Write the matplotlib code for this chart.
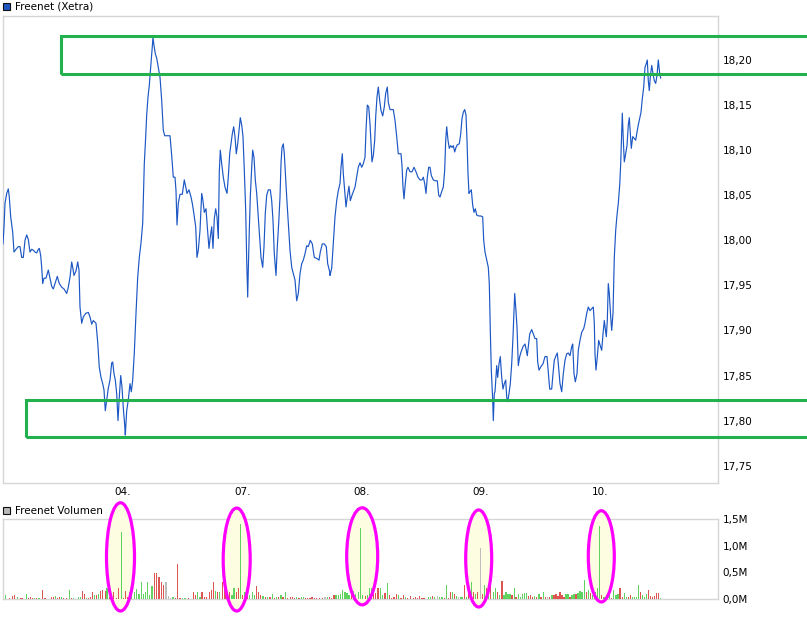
import matplotlib
matplotlib.use("Agg")
import matplotlib.pyplot as plt
from matplotlib.patches import Rectangle, Ellipse

plt.rcParams['font.family'] = ['DejaVu Sans']

# ---------------- data ----------------
# time axis: intraday time units (one trading day = 119.5 units)
day_ticks = [120, 240, 359, 478, 597]
day_labels = ["04.", "07.", "08.", "09.", "10."]

price_t = [0, 1, 2, 3.7, 5.3, 6.3, 7.7, 9.7, 11, 13, 15.3, 17, 18.7, 20.3, 22, 23.7, 25.3, 27, 28.7, 30.3,
           32, 33.7, 35.3, 36.3, 37.7, 38.7, 39.7, 41, 43, 45.3, 47, 48.7, 50.3, 52, 54.3, 56.3, 58.7, 61, 63.7, 65.3,
           67, 68.7, 69.7, 71, 73, 74.7, 76, 77, 78.7, 80.3, 82.7, 85.3, 87, 88.7, 90.3, 93, 94.7, 96.3, 98, 99.7,
           101, 102.3, 103.7, 105.3, 107, 108.7, 109.7, 111, 112.3, 113.7, 115, 116.3, 117.7, 119, 120.3, 121.7, 122.3, 123.7, 125.3, 127,
           128.3, 129.7, 131.3, 133, 134.7, 136.3, 138, 139.7, 141.3, 142.7, 143.7, 145, 146.3, 147.7, 149, 150, 151, 152.3, 153.7, 155.3,
           157, 158.7, 160.3, 161.7, 167, 168.7, 170.3, 172, 173, 174, 175.3, 177, 179.3, 181.3, 182.7, 184, 186, 188, 189.3, 190.7,
           192.7, 194, 195.3, 197, 198.7, 199.7, 201.3, 203, 204.3, 206, 207.3, 208.7, 210, 211.3, 212.7, 214, 215.3, 216.3, 217.3, 218.7,
           220.3, 222, 224, 225.3, 226.7, 228, 229.3, 230.7, 232, 233.3, 234.7, 236, 237.3, 238.7, 240, 241.3, 242.7, 243.7, 244.7, 245.3,
           246.3, 247.3, 248.7, 249.7, 251, 252.3, 253.7, 255.3, 256.7, 258, 259.7, 261, 262.3, 263.7, 265.3, 267.3, 268.7, 270, 271.3, 273,
           274.3, 275.7, 277, 278, 279, 280.3, 281.3, 282.3, 283.7, 285.3, 287, 288.7, 290.3, 292, 293.7, 295.3, 297, 298.7, 300.3, 302,
           303.7, 305.3, 307.3, 309.3, 311.3, 313.7, 316, 317.3, 319.3, 321.3, 323.3, 324.7, 326.7, 327, 328.7, 330.3, 332, 333.7, 335.3, 337,
           338, 339.3, 340.3, 341.7, 343, 344.3, 346, 347.3, 349, 350.3, 352, 353.7, 355.3, 357, 358.7, 360.3, 362, 363, 364.3, 365.7,
           367, 368, 369, 370.3, 371.7, 372.7, 374, 375.3, 376.7, 378, 379.7, 381.3, 382.7, 384.3, 385.3, 387, 390.3, 392, 393.7, 395.3,
           398, 399, 400, 401, 402.3, 403.7, 405, 407, 409, 411, 413, 415, 417, 419, 420.3, 421.7, 423, 424.3, 425.7, 427,
           428.3, 430.3, 432.3, 434.3, 435.7, 437, 438.7, 440.3, 441.7, 442.7, 443.7, 445, 446.3, 447.7, 449, 450.3, 451.7, 453, 454.3, 456.3,
           457.7, 459, 460.3, 461.7, 463, 464, 465, 466, 467, 468.3, 469.7, 471, 472.3, 473.7, 475.7, 477.7, 479.7, 480.7, 482, 483.7,
           485.3, 486.3, 487.3, 488.3, 489.7, 490.3, 491.3, 492, 493.7, 494.7, 496, 497.3, 498.7, 500, 501.3, 502.7, 503.7, 504.7, 506, 507.3,
           508.7, 510, 511, 511.7, 512.7, 514, 515.3, 516.7, 518, 520, 522, 523.3, 524.3, 525.3, 526.7, 528.7, 530.3, 532, 533.7, 534.7,
           536, 538, 540, 542, 544, 545.3, 546.7, 548.7, 550, 551.3, 553, 554.3, 555.3, 557, 558.7, 560.3, 562, 563.7, 565.3, 567,
           568.7, 569.7, 571, 572.3, 574, 575.3, 577, 578.7, 580.7, 582, 583.7, 585.3, 587, 588.7, 590.3, 591.3, 592, 593, 594.3, 595.7,
           597, 598.7, 600, 601.3, 602.3, 603.3, 604.3, 605.3, 606.3, 607.7, 608.7, 610, 611.3, 612.7, 614, 615.3, 616.7, 617.7, 618.7, 619.3,
           620.3, 621.3, 622.7, 624, 625.3, 626.3, 627.3, 628.3, 629.7, 631.3, 632.7, 634, 635.3, 636.7, 638, 639.3, 640.7, 642, 643.3, 644.3,
           645.3, 646.3, 647.3, 648.7, 650, 651.3, 652.7, 654, 655.3, 656.7, 657.7]

price_v = [17.996, 18.015, 18.041, 18.052, 18.057, 18.048, 18.026, 18.009, 17.987, 17.990, 17.993, 17.993, 17.981, 17.981, 18.000, 18.006, 18.001, 17.987, 17.990, 17.989,
           17.987, 17.986, 17.990, 17.991, 17.983, 17.970, 17.952, 17.958, 17.958, 17.967, 17.958, 17.949, 17.946, 17.952, 17.960, 17.952, 17.948, 17.946, 17.941, 17.948,
           17.959, 17.976, 17.970, 17.961, 17.966, 17.976, 17.967, 17.926, 17.908, 17.915, 17.919, 17.920, 17.915, 17.907, 17.911, 17.908, 17.887, 17.859, 17.848, 17.841,
           17.834, 17.811, 17.823, 17.836, 17.845, 17.864, 17.865, 17.852, 17.845, 17.830, 17.800, 17.826, 17.850, 17.837, 17.814, 17.795, 17.784, 17.811, 17.823, 17.841,
           17.832, 17.845, 17.875, 17.919, 17.959, 17.981, 17.997, 18.019, 18.085, 18.115, 18.139, 18.159, 18.172, 18.192, 18.211, 18.225, 18.216, 18.207, 18.202, 18.192,
           18.181, 18.155, 18.122, 18.116, 18.116, 18.094, 18.070, 18.070, 18.055, 18.017, 18.041, 18.051, 18.051, 18.067, 18.059, 18.052, 18.056, 18.048, 18.041, 18.031,
           18.015, 17.981, 17.989, 18.011, 18.052, 18.046, 18.031, 18.035, 18.015, 17.991, 18.004, 18.015, 17.991, 18.024, 18.035, 18.026, 18.002, 18.076, 18.100, 18.085,
           18.070, 18.059, 18.052, 18.070, 18.096, 18.107, 18.118, 18.126, 18.115, 18.096, 18.107, 18.122, 18.136, 18.128, 18.115, 18.078, 18.033, 17.978, 17.937, 17.967,
           18.011, 18.048, 18.081, 18.100, 18.092, 18.067, 18.052, 18.026, 18.004, 17.981, 17.970, 17.993, 18.030, 18.050, 18.056, 18.056, 18.044, 18.022, 17.985, 17.961,
           17.993, 18.019, 18.048, 18.085, 18.103, 18.107, 18.096, 18.076, 18.048, 18.019, 17.989, 17.970, 17.963, 17.956, 17.933, 17.941, 17.963, 17.974, 17.978, 17.985,
           17.994, 17.993, 18.000, 17.996, 17.981, 17.980, 17.978, 17.987, 17.996, 17.996, 17.993, 17.974, 17.965, 17.961, 17.969, 17.996, 18.026, 18.044, 18.055, 18.063,
           18.081, 18.096, 18.074, 18.055, 18.037, 18.048, 18.060, 18.044, 18.050, 18.054, 18.059, 18.070, 18.081, 18.086, 18.081, 18.085, 18.092, 18.122, 18.150, 18.148,
           18.129, 18.107, 18.087, 18.094, 18.111, 18.137, 18.159, 18.170, 18.155, 18.144, 18.138, 18.148, 18.163, 18.170, 18.153, 18.145, 18.145, 18.133, 18.115, 18.096,
           18.096, 18.083, 18.059, 18.046, 18.063, 18.078, 18.081, 18.076, 18.076, 18.081, 18.076, 18.070, 18.067, 18.067, 18.070, 18.063, 18.052, 18.070, 18.081, 18.081,
           18.072, 18.067, 18.066, 18.066, 18.050, 18.048, 18.054, 18.059, 18.078, 18.111, 18.126, 18.111, 18.102, 18.105, 18.103, 18.105, 18.098, 18.103, 18.106, 18.107,
           18.118, 18.135, 18.142, 18.145, 18.139, 18.111, 18.074, 18.052, 18.054, 18.056, 18.039, 18.031, 18.035, 18.028, 18.027, 18.027, 18.026, 18.000, 17.987, 17.978,
           17.970, 17.952, 17.900, 17.856, 17.823, 17.800, 17.830, 17.832, 17.861, 17.848, 17.863, 17.871, 17.848, 17.835, 17.841, 17.845, 17.826, 17.821, 17.830, 17.841,
           17.863, 17.893, 17.922, 17.941, 17.926, 17.904, 17.861, 17.871, 17.876, 17.882, 17.885, 17.878, 17.872, 17.882, 17.896, 17.901, 17.896, 17.891, 17.891, 17.865,
           17.856, 17.860, 17.863, 17.871, 17.871, 17.854, 17.835, 17.835, 17.852, 17.867, 17.872, 17.875, 17.863, 17.841, 17.832, 17.852, 17.867, 17.874, 17.875, 17.872,
           17.882, 17.885, 17.852, 17.843, 17.852, 17.878, 17.889, 17.898, 17.902, 17.908, 17.919, 17.926, 17.922, 17.924, 17.926, 17.908, 17.874, 17.856, 17.871, 17.889,
           17.884, 17.878, 17.896, 17.911, 17.902, 17.893, 17.911, 17.952, 17.941, 17.915, 17.900, 17.919, 17.981, 18.011, 18.028, 18.041, 18.061, 18.085, 18.122, 18.141,
           18.111, 18.087, 18.096, 18.105, 18.128, 18.136, 18.118, 18.102, 18.115, 18.113, 18.111, 18.120, 18.128, 18.135, 18.142, 18.157, 18.170, 18.192, 18.196, 18.200,
           18.177, 18.166, 18.181, 18.194, 18.185, 18.177, 18.174, 18.183, 18.200, 18.185, 18.180]

# volume bars: time, volume (thousands), colour code (g=up, r=down, n=unchanged)
vol_t = [2.3, 6.3, 9.3, 11.3, 14.3, 18, 19.7, 23.3, 25.7, 27.3, 29.7, 31.7, 33.7, 36, 39.3, 42, 48.7, 50.3, 52.3, 54.3,
         56.3, 58.3, 60.3, 63.3, 66.3, 68.3, 70.3, 75.7, 77.3, 79.3, 81.3, 83.7, 85.7, 87.7, 89.3, 91.3, 93.3, 95.3, 97.3, 99.3,
         102.3, 104, 106.3, 108.7, 110.7, 113.3, 115.7, 118.3, 120.3, 122.3, 124.7, 126.7, 128.7, 131.3, 133.3, 136, 138.3, 140.7, 142.3, 144.7,
         146.7, 149, 151.3, 153.7, 156, 158.3, 160.7, 163, 165.3, 167.7, 170, 172.3, 174.3, 177, 179.7, 182, 185.3, 190.7, 192.7, 194.7,
         197, 199, 201.3, 203.7, 206.3, 208.3, 210.3, 212.3, 214.3, 216.7, 219.7, 222, 224, 226.3, 229, 231, 233.3, 235.3, 237.7, 239.7,
         242, 244.3, 246.3, 249.3, 251.3, 253.3, 255.7, 257.7, 260, 262.7, 264.7, 267, 269.3, 271.3, 273.7, 275.7, 278, 280, 282.7, 284.7,
         287.3, 289.3, 291.7, 293.7, 296, 298.3, 300.3, 302.7, 304.7, 307, 309, 311.3, 313.7, 316.3, 319.7, 322, 324.3, 326.3, 328.7, 331,
         333, 335.3, 337.3, 339.7, 342, 344, 346, 348.3, 350.7, 352.7, 355.3, 357.7, 359.7, 362.3, 364.3, 366.3, 368.3, 370.3, 372.7, 375,
         377.3, 379.7, 382, 384.3, 386.3, 388.7, 391, 393.3, 395.7, 398, 400.3, 402.3, 404.3, 407.7, 410.3, 412.7, 414.3, 416.7, 419, 421,
         425.3, 427.7, 429.7, 431.7, 434.3, 436.7, 439, 441.3, 443.3, 445.7, 447.3, 449.3, 451.7, 453.7, 455.7, 457.7, 459, 461.3, 463.7, 465.7,
         468.3, 470.3, 472.3, 474.3, 477.3, 479.7, 481.7, 483.7, 485.7, 487.7, 490.3, 492.3, 494.3, 496.3, 499, 501, 503, 505, 507, 509,
         511.3, 513, 515.3, 517.3, 519.3, 521.3, 523.3, 525.3, 527.7, 529.7, 531.7, 533.7, 536, 538, 540.3, 542.7, 544.7, 546.7, 549, 551,
         553, 555, 557, 559, 561, 563, 565, 567, 569, 571, 573, 575, 577, 579, 581.3, 583.7, 585.7, 587.7, 589.7, 592,
         594.3, 596.3, 598.7, 601, 603.7, 606.3, 608.7, 610.7, 613, 615, 617, 619.3, 621.3, 623.7, 625.7, 627.7, 629.7, 631.7, 633.7, 635.7,
         637.7, 639.7, 641.7, 643.7, 645.7, 647.7, 649.7, 651.7, 653.7, 655.7, 657.7]

vol_k = [75, 25, 62, 81, 44, 19, 19, 94, 25, 44, 19, 19, 19, 19, 169, 19, 44, 44, 62, 19,
         44, 44, 19, 19, 169, 19, 19, 44, 44, 150, 94, 19, 19, 44, 125, 75, 75, 88, 150, 169,
         150, 200, 44, 75, 125, 19, 212, 1262, 19, 150, 44, 125, 94, 138, 188, 94, 312, 94, 138, 312,
         75, 250, 481, 481, 419, 312, 262, 312, 62, 25, 44, 25, 656, 19, 25, 25, 19, 125, 75, 125,
         44, 138, 44, 31, 138, 169, 312, 150, 125, 138, 312, 188, 125, 125, 75, 212, 138, 212, 1400, 75,
         138, 212, 75, 138, 75, 250, 138, 75, 62, 44, 44, 44, 94, 19, 44, 44, 75, 44, 125, 19,
         44, 44, 19, 44, 19, 31, 44, 25, 25, 19, 44, 19, 19, 19, 25, 44, 44, 44, 25, 75,
         75, 75, 94, 169, 138, 106, 75, 125, 150, 94, 125, 1338, 75, 62, 75, 200, 200, 100, 106, 200,
         212, 75, 106, 294, 75, 12, 44, 94, 75, 19, 75, 44, 19, 56, 19, 44, 25, 56, 25, 19,
         38, 38, 56, 38, 50, 38, 38, 25, 262, 25, 138, 138, 100, 62, 44, 44, 44, 262, 44, 138,
         312, 138, 88, 138, 962, 88, 262, 200, 231, 312, 138, 200, 125, 75, 338, 75, 125, 100, 94, 75,
         200, 44, 94, 44, 94, 112, 112, 62, 75, 44, 62, 44, 94, 44, 125, 44, 44, 44, 75, 75,
         94, 62, 138, 75, 44, 94, 94, 44, 75, 100, 100, 106, 150, 125, 356, 138, 169, 106, 75, 138,
         200, 1369, 75, 44, 75, 75, 25, 169, 75, 100, 212, 44, 106, 44, 44, 75, 44, 44, 44, 262,
         125, 75, 44, 94, 169, 56, 44, 56, 112, 112, 19]

vol_c = ("grrrgrrgrrrgrgrrrrgr"
         "rgrrgrgggrrgrrrgrgrr"
         "rgrrrrrgrrrggggggggg"
         "ggrrrrrnnngrrrggrrrg"
         "grrrrrrgrgrrgrggrrgr"
         "grgggrrrgrgrgrgrgrgr"
         "rrrgrggrrrrrrrrngrrr"
         "gggggggrgggggrgggrrr"
         "ggrgrrrrgrrgrrrrrrrr"
         "ggrgnggrgrrgrgnggrgr"
         "grgrnrgrgrggrgrggggr"
         "grgggggrrrgrgrgrnrgr"
         "rrrrrggrggrggggrgrgg"
         "ggrgrgrgggrrggrrggg"
         "grgggrrrrrr")

# price range markings (upper / lower band) and highlighted volume spikes
bands = [(57.7, 18.1847, 18.2268), (22.5, 17.7813, 17.8231)]
spikes = [(117.5, 790e3, 28, 2.03e6), (233.7, 740e3, 27, 1.93e6), (359.2, 800e3, 31, 1.82e6),
          (475.7, 760e3, 26, 1.82e6), (598.3, 800e3, 26, 1.71e6)]

# ---------------- figure ----------------
W, H = 807, 619
fig = plt.figure(figsize=(W / 100, H / 100), dpi=100)


def px_axes(l, t, r, b):
    return fig.add_axes([l / W, 1 - b / H, (r - l) / W, (b - t) / H])


FRAME = '#d6d6d6'
LINE = '#1c57c4'
GREEN = '#22b14c'

ax = px_axes(3, 16, 718, 483)
axv = px_axes(3, 519, 718, 599)

for a in (ax, axv):
    for s in a.spines.values():
        s.set_color(FRAME)
        s.set_linewidth(1.0)
    a.set_xlim(0, 715)
    a.yaxis.tick_right()
    a.tick_params(axis='y', length=0, pad=3.5, labelsize=7.5, colors='black')

# price line
ax.plot(price_t, price_v, color=LINE, lw=0.85, zorder=3)
ax.set_ylim(17.7308, 18.2488)
yt = [17.75 + 0.05 * i for i in range(10)]
ax.set_yticks(yt)
ax.set_yticklabels([f"{v:.2f}".replace('.', ',') for v in yt])
ax.set_xticks(day_ticks)
ax.set_xticklabels(day_labels)
ax.tick_params(axis='x', length=0, pad=3, labelsize=7.5)

for left, lo, hi in bands:
    ax.add_patch(Rectangle((left, lo), 900, hi - lo, fill=False, edgecolor=GREEN,
                           lw=2.2, clip_on=False, zorder=5))

# volume
cmap = {'g': '#5fd25f', 'r': '#dd5550', 'n': '#bdbdbd'}
axv.bar(vol_t, [k * 1000 for k in vol_k], width=1.2, color=[cmap[c] for c in vol_c],
        linewidth=0, zorder=3)
axv.set_ylim(0, 1.5e6)
axv.set_yticks([0, 0.5e6, 1.0e6, 1.5e6])
axv.set_yticklabels(["0,0M", "0,5M", "1,0M", "1,5M"])
axv.set_xticks([])

for xc, yc, w, h in spikes:
    axv.add_patch(Ellipse((xc, yc), w, h, facecolor='#fdfde1', edgecolor='none',
                          clip_on=False, zorder=2.6))
    axv.add_patch(Ellipse((xc, yc), w, h, facecolor='none', edgecolor='#ff00ff',
                          lw=2.3, clip_on=False, zorder=4))

# legends
fig.add_artist(Rectangle((3 / W, 1 - 10 / H), 7 / W, 7 / H, transform=fig.transFigure,
                         facecolor='#1f56c0', edgecolor='#101010', lw=0.8))
fig.text(15 / W, 1 - 6.5 / H, "Freenet (Xetra)", fontsize=7.5, va='center', ha='left')
fig.add_artist(Rectangle((3 / W, 1 - 514 / H), 7 / W, 7 / H, transform=fig.transFigure,
                         facecolor='#b8b8b8', edgecolor='#101010', lw=0.8))
fig.text(15 / W, 1 - 510.5 / H, "Freenet Volumen", fontsize=7.5, va='center', ha='left')

fig.savefig('out.png', dpi=100)
